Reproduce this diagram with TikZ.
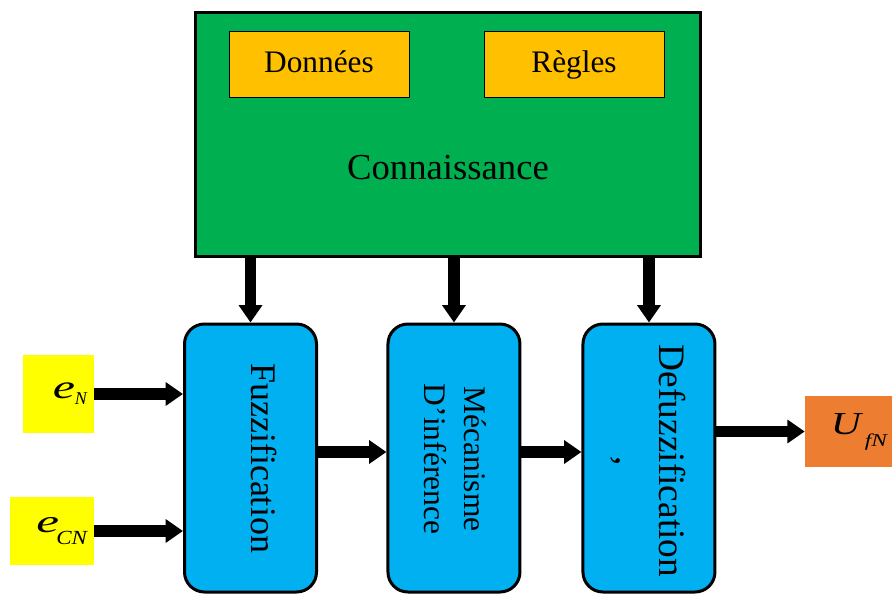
\documentclass[tikz,border=0pt]{standalone}
\usepackage{graphicx}
\usepackage{fontspec}
\setmainfont{Liberation Serif}
\usetikzlibrary{arrows.meta}

\definecolor{kgreen}{HTML}{00B050}
\definecolor{kgold}{HTML}{FFC000}
\definecolor{kblue}{HTML}{00B0F0}
\definecolor{kyellow}{HTML}{FFFF00}
\definecolor{korange}{HTML}{ED7D31}

\begin{document}
\begin{tikzpicture}[x=0.75pt, y=-0.75pt, node distance=150pt,
  block/.style={draw, line width=2.25pt, rounded corners=15pt, fill=kblue, minimum width=99pt, minimum height=201pt, inner sep=0pt},
  datum/.style={draw, line width=0.75pt, fill=kgold, minimum width=135pt, minimum height=49.5pt, inner sep=0pt, font=\fontsize{23.5}{28}\selectfont, text height=16pt, text depth=4pt},
  sig/.style={inner ysep=0pt, align=right},
  arrow/.style={line width=8.5pt, -{Triangle[length=13pt, width=17pt]}}]
  \useasboundingbox (0,0) rectangle (892,593);

  % Nodes
  \node[draw, line width=2.25pt, fill=kgreen, minimum width=378.75pt, minimum height=183pt] (know) at (448,134) {};
  \node[font=\fontsize{27.5}{32}\selectfont] (knowtext) at (448,168) {Connaissance};
  \node[datum] (data) at (319,64) {Données};
  \node[datum] (rules) at (574,64) {Règles};

  \node[block] (fuzz) at (250.5,458) {};
  \node[block, right of=fuzz, xshift=2.6pt] (meca) {};
  \node[block, right of=meca, xshift=-3.75pt] (defuzz) {};
  \node[rotate=-90, font=\fontsize{27}{32}\selectfont] (fuzztext) at (264,458) {Fuzzification};
  \node[rotate=-90, align=center, font=\fontsize{23.6}{30}\selectfont] (mecatext) at (455,459) {Mécanisme\\D’inférence};
  \node[rotate=-90, align=center, font=\fontsize{28}{32}\selectfont] (defuzztext) at (648,461) {Defuzzification\\,};

  \node[sig, fill=kyellow, minimum height=58.5pt, text width=42.75pt, inner xsep=5.25pt] (eN) at (58.5,394)
    {\scalebox{1.5}[1]{\fontsize{25}{25}\selectfont\itshape e}\raisebox{-4.5pt}{\fontsize{13.5}{13.5}\selectfont\itshape N}};
  \node[sig, fill=kyellow, minimum height=51pt, text width=52.5pt, inner xsep=5.25pt] (eCN) at (52,531)
    {\scalebox{1.6}[1]{\fontsize{24}{24}\selectfont\itshape e}\hspace{-2pt}\raisebox{-9pt}{\scalebox{1.15}[1]{\fontsize{15}{15}\selectfont\itshape CN}}};
  \node[sig, fill=korange, minimum height=53.25pt, text width=57.75pt, inner xsep=3.75pt] (U) at (848.5,431.5)
    {\scalebox{1.3}[1]{\fontsize{24}{24}\selectfont\itshape U}\hspace{3pt}\raisebox{-9pt}{\scalebox{1.3}[1]{\fontsize{13.5}{13.5}\selectfont\itshape fN}}};

  % Arrows
  \draw[arrow] (know.south -| fuzz.north) -- (fuzz.north);
  \draw[arrow] (know.south -| meca.north) -- (meca.north);
  \draw[arrow] (know.south -| defuzz.north) -- (defuzz.north);
  \draw[arrow] (eN) -- (eN -| fuzz.west);
  \draw[arrow] (eCN) -- (eCN -| fuzz.west);
  \draw[arrow] ([yshift=4.5pt]fuzz.east) -- ([yshift=4.5pt]meca.west);
  \draw[arrow] ([yshift=4.5pt]meca.east) -- ([yshift=4.5pt]defuzz.west);
  \draw[arrow] (U -| defuzz.east) -- (U);
\end{tikzpicture}
\end{document}
